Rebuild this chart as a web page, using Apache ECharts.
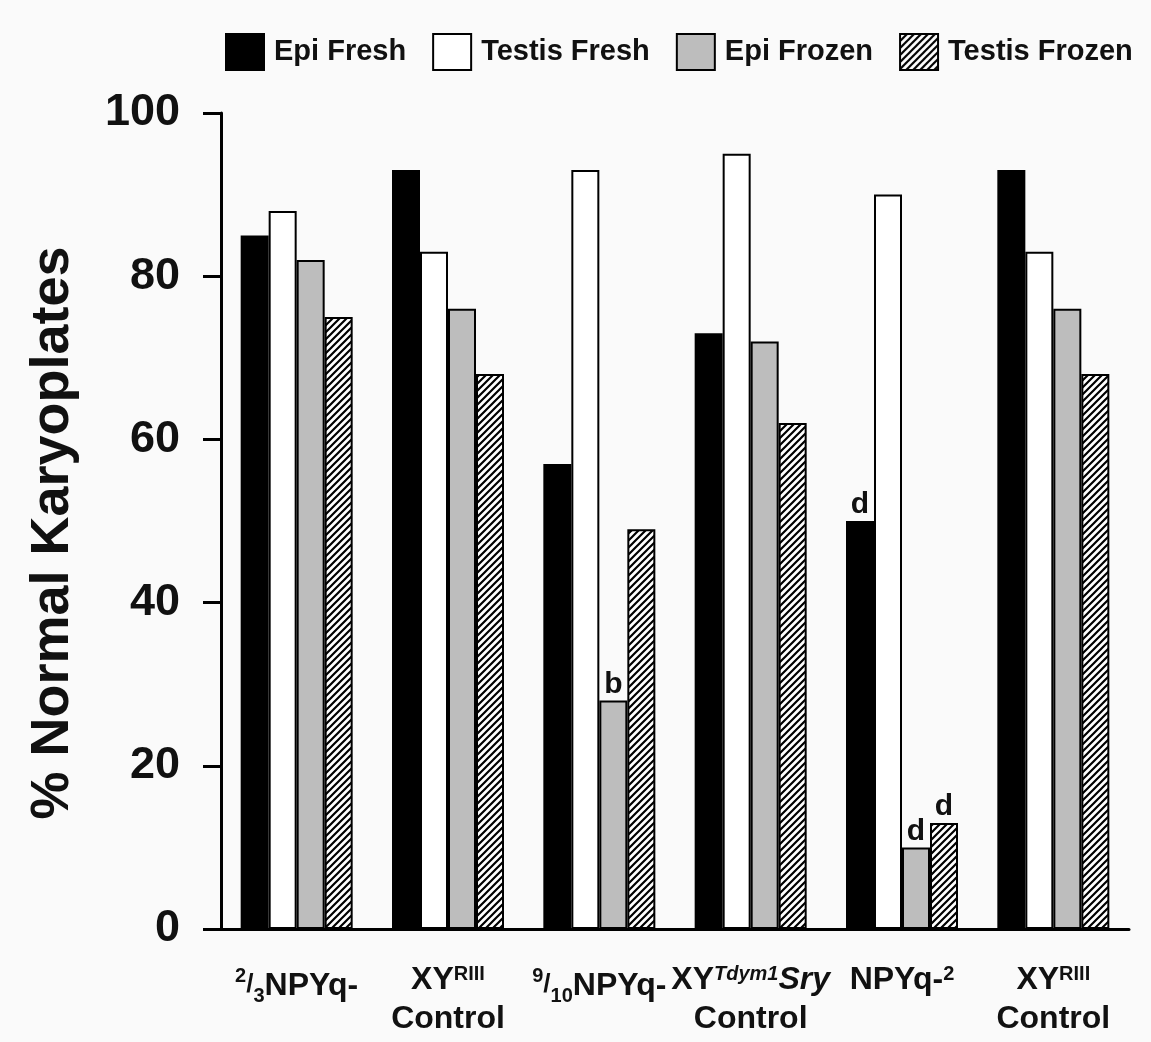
<!DOCTYPE html>
<html>
<head>
<meta charset="utf-8">
<script src="https://cdn.jsdelivr.net/npm/echarts@6/dist/echarts.min.js"></script>
<style>
  html, body { margin: 0; padding: 0; background: #fafafa; }
  #chart { width: 1151px; height: 1042px; }
</style>
</head>
<body>
<div id="chart"></div>
<script>
// groups along the x axis (rich text for the super/subscripts)
var categories = [
    '{fs|2}{fl|/}{fb|3}{nb|NPYq-}',
    '{b|XY}{s|RIII}\n{b|Control}',
    '{fs|9}{fl|/}{fb|10}{nb|NPYq-}',
    '{b|XY}{si|Tdym1}{bi|Sry}\n{b|Control}',
    '{b|NPYq-}{s|2}',
    '{b|XY}{s|RIII}\n{b|Control}'
];
var yTicks = [0, 20, 40, 60, 80, 100];

var epiFresh     = [85, 93, 57, 73, 50, 93];
var testisFresh  = [88, 83, 93, 95, 90, 83];
var epiFrozen    = [82, 76, 28, 72, 10, 76];
var testisFrozen = [75, 68, 49, 62, 13, 68];

// significance letters above bars
var epiFreshMarks     = ['', '', '', '', 'd', ''];
var testisFreshMarks  = ['', '', '', '', '', ''];
var epiFrozenMarks    = ['', '', 'b', '', 'd', ''];
var testisFrozenMarks = ['', '', '', '', 'd', ''];

var FONT = '"Liberation Sans", Arial, Helvetica, sans-serif';
var INK = '#111';

function hatch() {
    var s = 7;
    var c = document.createElement('canvas');
    c.width = s; c.height = s;
    var g = c.getContext('2d');
    g.fillStyle = '#fff';
    g.fillRect(0, 0, s, s);
    g.strokeStyle = '#000';
    g.lineWidth = 2.2;
    g.beginPath();
    g.moveTo(-1, s + 1); g.lineTo(s + 1, -1);
    g.moveTo(-s / 2 - 1, s / 2 + 1); g.lineTo(s / 2 + 1, -s / 2 - 1);
    g.moveTo(s / 2 - 1, s * 1.5 + 1); g.lineTo(s * 1.5 + 1, s / 2 - 1);
    g.stroke();
    return c;
}

function withMarks(values, marks) {
    return values.map(function (v, i) {
        return marks[i] ? { value: v, label: { show: true, formatter: marks[i] } } : v;
    });
}

function bar(name, values, marks, fill) {
    return {
        name: name,
        type: 'bar',
        barWidth: 28,
        barGap: '0%',
        data: withMarks(values, marks),
        itemStyle: { color: fill, borderColor: '#000', borderWidth: 2 },
        label: {
            show: false,
            position: 'top',
            distance: 1,
            color: INK,
            fontFamily: FONT,
            fontWeight: 'bold',
            fontSize: 30
        },
        emphasis: { disabled: true }
    };
}

// rich token helper: top aligned, shifted down by padding
function tok(size, top, italic) {
    return {
        fontFamily: FONT,
        fontWeight: 'bold',
        fontStyle: italic ? 'italic' : 'normal',
        fontSize: size,
        verticalAlign: 'top',
        padding: [top, 0, 0, 0],
        color: INK
    };
}

var myChart = echarts.init(document.getElementById('chart'));
var option = {
    backgroundColor: '#fafafa',
    animation: false,
    legend: {
        left: 225,
        top: 33,
        width: 940,
        padding: 0,
        icon: 'rect',
        itemWidth: 38,
        itemHeight: 36,
        itemGap: 26,
        textStyle: {
            color: INK,
            fontFamily: FONT,
            fontWeight: 'bold',
            fontSize: 29,
            padding: [0, 0, 0, 5]
        },
        data: ['Epi Fresh', 'Testis Fresh', 'Epi Frozen', 'Testis Frozen']
    },
    grid: {
        left: 221,
        right: 22,
        top: 113,
        bottom: 112
    },
    xAxis: {
        type: 'category',
        data: categories,
        axisLine: { lineStyle: { color: '#000', width: 3 } },
        axisTick: { show: false },
        axisLabel: {
            interval: 0,
            margin: 35,
            color: INK,
            lineHeight: 39,
            rich: {
                b:  tok(32, 0),
                bi: tok(32, 0, true),
                s:  tok(20, 0),
                si: tok(20, 0, true),
                nb: tok(32, 6),
                fs: tok(20, 2),
                fl: tok(26, 8),
                fb: tok(20, 22)
            }
        }
    },
    yAxis: {
        type: 'value',
        min: yTicks[0],
        max: yTicks[yTicks.length - 1],
        interval: yTicks[1] - yTicks[0],
        name: '% Normal Karyoplates',
        nameLocation: 'middle',
        nameGap: 141,
        nameTextStyle: {
            color: INK,
            fontFamily: FONT,
            fontWeight: 'bold',
            fontSize: 54,
            padding: [0, 24, 0, 0]
        },
        axisLine: { show: true, lineStyle: { color: '#000', width: 3 } },
        axisTick: { show: true, length: 18, lineStyle: { color: '#000', width: 3 } },
        splitLine: { show: false },
        axisLabel: {
            margin: 41,
            color: INK,
            fontFamily: FONT,
            fontWeight: 'bold',
            fontSize: 45
        }
    },
    series: [
        bar('Epi Fresh', epiFresh, epiFreshMarks, '#000'),
        bar('Testis Fresh', testisFresh, testisFreshMarks, '#fff'),
        bar('Epi Frozen', epiFrozen, epiFrozenMarks, '#bdbdbd'),
        bar('Testis Frozen', testisFrozen, testisFrozenMarks, { image: hatch(), repeat: 'repeat' })
    ]
};
myChart.setOption(option);
window.addEventListener('resize', function () {
    myChart.resize();
});
</script>
</body>
</html>
